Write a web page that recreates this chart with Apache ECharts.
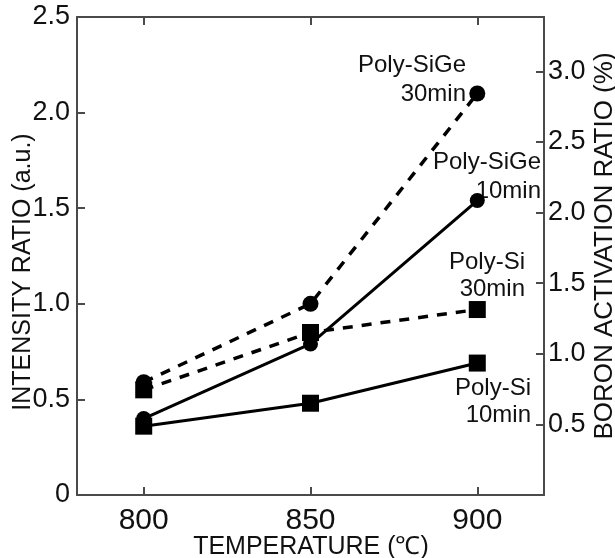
<!DOCTYPE html>
<html>
<head>
<meta charset="utf-8">
<script src="https://cdn.jsdelivr.net/npm/echarts@6/dist/echarts.min.js"></script>
<style>html,body{margin:0;padding:0;background:#fff}#c{width:615px;height:558px}</style>
</head>
<body>
<div id="c"></div>
<script>
var temps = [800, 850, 900];
var polySiGe30 = [0.59, 1.00, 2.10];
var polySiGe10 = [0.40, 0.79, 1.54];
var polySi30 = [0.55, 0.85, 0.97];
var polySi10 = [0.36, 0.48, 0.69];
var xTicks = [800, 850, 900];
var leftTicks = [0, 0.5, 1.0, 1.5, 2.0, 2.5];
var rightTicks = [0.5, 1.0, 1.5, 2.0, 2.5, 3.0];

function pairs(ys){ return temps.map(function(t,i){ return [t, ys[i]]; }); }

var FONT = 'Liberation Sans';
var AX = '#4a4a4a';
var chart = echarts.init(document.getElementById('c'), null, {renderer:'canvas'});

function lineSeries(name, ys, dashed, symbol, size){
  return {
    name: name, type: 'line', data: pairs(ys), xAxisIndex: 0, yAxisIndex: 0,
    symbol: symbol, symbolSize: size, showAllSymbol: true,
    lineStyle: {color: '#000', width: dashed ? 3.5 : 3, type: dashed ? [10, 9] : 'solid'},
    itemStyle: {color: '#000', borderWidth: 0},
    emphasis: {disabled: true}, animation: false, z: 3
  };
}

var option = {
  animation: false,
  grid: {left: 77, right: 71, top: 17, bottom: 63, containLabel: false},
  xAxis: [{
    type: 'value', min: 780, max: 920, position: 'bottom',
    axisLine: {show: true, lineStyle: {color: AX, width: 2}},
    axisTick: {show: true, inside: true, length: 8, lineStyle: {color: AX, width: 2}, customValues: xTicks},
    axisLabel: {show: true, customValues: xTicks, color: '#111', fontFamily: FONT, fontSize: 30, margin: 11},
    splitLine: {show: false}
  }, {
    type: 'value', min: 780, max: 920, position: 'top',
    axisLine: {show: true, onZero: false, lineStyle: {color: AX, width: 2}},
    axisTick: {show: true, inside: true, length: 8, lineStyle: {color: AX, width: 2}, customValues: xTicks},
    axisLabel: {show: false},
    splitLine: {show: false}
  }],
  yAxis: [{
    type: 'value', min: 0, max: 2.5, position: 'left',
    axisLine: {show: true, onZero: false, lineStyle: {color: AX, width: 2}},
    axisTick: {show: true, inside: true, length: 8, lineStyle: {color: AX, width: 2}, customValues: leftTicks},
    axisLabel: {show: true, customValues: leftTicks, color: '#111', fontFamily: FONT, fontSize: 27, margin: 7,
      formatter: function(v){ return v === 0 ? '0' : v.toFixed(1); }},
    splitLine: {show: false}
  }, {
    type: 'value', min: 0, max: 3.385, position: 'right',
    axisLine: {show: true, onZero: false, lineStyle: {color: AX, width: 2}},
    axisTick: {show: true, inside: true, length: 8, lineStyle: {color: AX, width: 2}, customValues: rightTicks},
    axisLabel: {show: true, customValues: rightTicks, color: '#111', fontFamily: FONT, fontSize: 27, margin: 4,
      formatter: function(v){ return v.toFixed(1); }},
    splitLine: {show: false}
  }],
  graphic: [
    {type: 'text', x: 23, y: 272, rotation: Math.PI/2,
      style: {text: 'INTENSITY RATIO (a.u.)', fill: '#111', font: '25px "Liberation Sans"', align: 'center', verticalAlign: 'middle'}},
    {type: 'text', x: 605, y: 246, rotation: Math.PI/2,
      style: {text: 'BORON ACTIVATION RATIO (%)', fill: '#111', font: '26px "Liberation Sans"', align: 'center', verticalAlign: 'middle'}},
    {type: 'text', x: 311, y: 547,
      style: {text: 'TEMPERATURE (\u2103)', fill: '#111', font: '25px "Liberation Sans"', align: 'center', verticalAlign: 'middle'}},
    {type: 'text', x: 466, y: 51,
      style: {text: 'Poly-SiGe\n30min', fill: '#111', font: '24px "Liberation Sans"', align: 'right', verticalAlign: 'top', lineHeight: 29}},
    {type: 'text', x: 541, y: 148,
      style: {text: 'Poly-SiGe\n10min', fill: '#111', font: '24px "Liberation Sans"', align: 'right', verticalAlign: 'top', lineHeight: 29}},
    {type: 'text', x: 525, y: 249,
      style: {text: 'Poly-Si\n30min', fill: '#111', font: '24px "Liberation Sans"', align: 'right', verticalAlign: 'top', lineHeight: 27}},
    {type: 'text', x: 531, y: 375,
      style: {text: 'Poly-Si\n10min', fill: '#111', font: '24px "Liberation Sans"', align: 'right', verticalAlign: 'top', lineHeight: 27}}
  ],
  series: [
    lineSeries('Poly-SiGe 30min', polySiGe30, true, 'circle', 16),
    lineSeries('Poly-Si 30min', polySi30, true, 'rect', 17),
    lineSeries('Poly-SiGe 10min', polySiGe10, false, 'circle', 15),
    lineSeries('Poly-Si 10min', polySi10, false, 'rect', 17)
  ]
};
chart.setOption(option);
</script>
</body>
</html>
